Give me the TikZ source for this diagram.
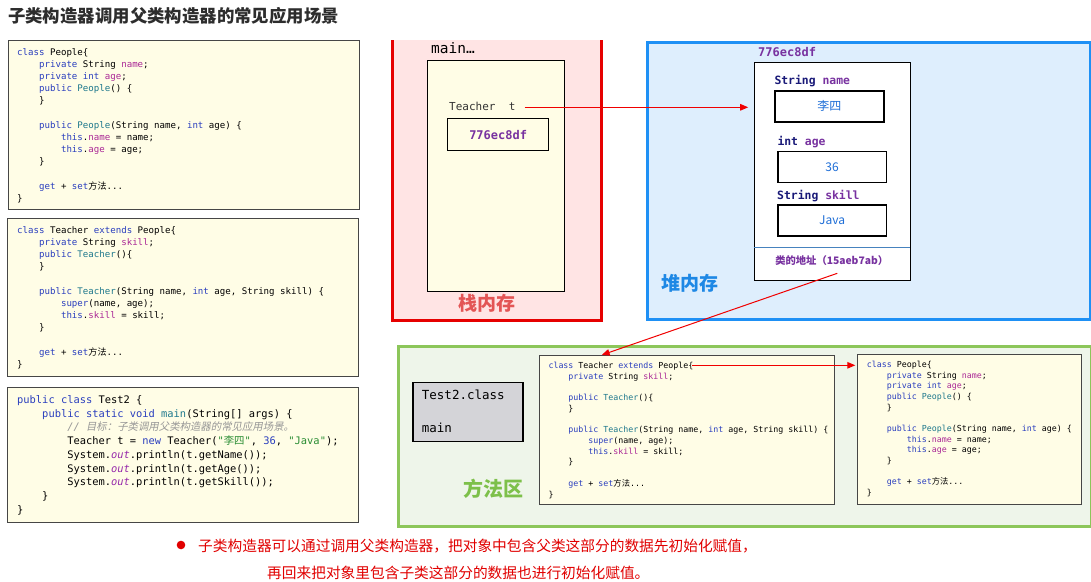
\documentclass[tikz,border=0pt]{standalone}
\usepackage{fontspec}
\setmainfont{Noto Sans CJK SC}
\newfontfamily\cjk{Noto Sans CJK SC}
\newfontfamily\cjkit[FakeSlant=0.2]{Noto Sans CJK SC}
\newfontfamily\mono{DejaVu Sans Mono}
\usetikzlibrary{arrows.meta}

\definecolor{kwc}{RGB}{42,62,190}
\definecolor{fdc}{RGB}{170,40,150}
\definecolor{mtc}{RGB}{30,120,140}
\definecolor{sgc}{RGB}{40,140,50}
\definecolor{cmc}{RGB}{150,150,150}
\definecolor{outc}{RGB}{150,40,170}
\definecolor{cream}{RGB}{255,253,230}
\definecolor{boxline}{RGB}{70,70,70}
\definecolor{stackfill}{RGB}{255,228,228}
\definecolor{stackline}{RGB}{230,0,0}
\definecolor{heapfill}{RGB}{222,238,253}
\definecolor{heapline}{RGB}{30,144,245}
\definecolor{methfill}{RGB}{238,245,234}
\definecolor{methline}{RGB}{140,198,90}
\definecolor{addr}{RGB}{120,50,160}
\definecolor{navyc}{RGB}{25,25,120}
\definecolor{valc}{RGB}{30,110,215}
\definecolor{arrowred}{RGB}{240,0,0}
\definecolor{titlec}{RGB}{45,45,45}
\definecolor{notered}{RGB}{225,0,0}
\definecolor{sepc}{RGB}{70,130,190}
\definecolor{grayfill}{RGB}{212,212,216}
\definecolor{stacktxt}{RGB}{227,85,85}
\definecolor{heaptxt}{RGB}{30,136,229}
\definecolor{methtxt}{RGB}{125,192,74}

\newcommand\kw[1]{\textcolor{kwc}{#1}}
\newcommand\fd[1]{\textcolor{fdc}{#1}}
\newcommand\mt[1]{\textcolor{mtc}{#1}}
\newcommand\sg[1]{\textcolor{sgc}{#1}}
\newcommand\zh[1]{{\cjk #1}}
\newcommand\zhit[1]{{\cjkit #1}}
\newcommand\CL[2][0]{\hbox{\hskip#1\fontcharwd\font`\0\relax #2}}
\newcommand\codeblk[2]{\vtop{\baselineskip=#1\lineskiplimit=-100pt\lineskip=0pt #2}}

\tikzset{
  codebox/.style={draw=boxline, line width=0.8pt, fill=cream, inner sep=0, anchor=north west},
  code/.style={anchor=base west, inner sep=0},
  valbox/.style={draw=black, line width=1.5pt, fill=white, anchor=north west, inner sep=0,
     font=\cjk\fontsize{12}{14}\selectfont, text=valc},
  arr/.style={draw=arrowred, line width=1pt, -{Triangle[length=8pt,width=6.5pt]}},
  region/.style={anchor=north west, inner sep=0},
  fieldlbl/.style={anchor=west, inner sep=0, font=\mono\bfseries\fontsize{11.4}{13}\selectfont, text=navyc},
}

\begin{document}
\begin{tikzpicture}[x=1pt,y=-1pt]
\useasboundingbox (0,0) rectangle (1091,581);
\fill[white] (0,0) rectangle (1091,581);

% title
\node[anchor=west, inner sep=0, text=titlec, font=\cjk\bfseries\fontsize{17.4}{20}\selectfont] (title) at (8,16) {子类构造器调用父类构造器的常见应用场景};

% left code boxes
\node[codebox, minimum width=351pt, minimum height=169pt] (pbox) at (8,40) {};
\node[code, font=\mono\fontsize{9.1}{12}\selectfont] (pcode) at (17,55) {\codeblk{12.2pt}{%
\CL{\kw{class} People\{}
\CL[4]{\kw{private} String \fd{name};}
\CL[4]{\kw{private} \kw{int} \fd{age};}
\CL[4]{\kw{public} \mt{People}() \{}
\CL[4]{\}}
\CL{}
\CL[4]{\kw{public} \mt{People}(String name, \kw{int} age) \{}
\CL[8]{\kw{this}.\fd{name} = name;}
\CL[8]{\kw{this}.\fd{age} = age;}
\CL[4]{\}}
\CL{}
\CL[4]{\kw{get} + \kw{set}\zh{方法}...}
\CL{\}}}};

\node[codebox, minimum width=351pt, minimum height=158pt] (tbox) at (7,218) {};
\node[code, font=\mono\fontsize{9.1}{12}\selectfont] (tcode) at (17,233) {\codeblk{12.2pt}{%
\CL{\kw{class} Teacher \kw{extends} People\{}
\CL[4]{\kw{private} String \fd{skill};}
\CL[4]{\kw{public} \mt{Teacher}()\{}
\CL[4]{\}}
\CL{}
\CL[4]{\kw{public} \mt{Teacher}(String name, \kw{int} age, String skill) \{}
\CL[8]{\kw{super}(name, age);}
\CL[8]{\kw{this}.\fd{skill} = skill;}
\CL[4]{\}}
\CL{}
\CL[4]{\kw{get} + \kw{set}\zh{方法}...}
\CL{\}}}};

\node[codebox, minimum width=351pt, minimum height=135pt] (xbox) at (7,387) {};
\node[code, font=\mono\fontsize{10.4}{13}\selectfont] (xcode) at (17,403.5) {\codeblk{13.7pt}{%
\CL{\kw{public} \kw{class} Test2 \{}
\CL[4]{\kw{public} \kw{static} \kw{void} \mt{main}(String[] args) \{}
\CL[8]{\textcolor{cmc}{\itshape // \zhit{目标：子类调用父类构造器的常见应用场景。}}}
\CL[8]{Teacher t = \kw{new} Teacher(\sg{"\zh{李四}"}, \textcolor{kwc}{36}, \sg{"Java"});}
\CL[8]{System.\textcolor{outc}{\itshape out}.println(t.getName());}
\CL[8]{System.\textcolor{outc}{\itshape out}.println(t.getAge());}
\CL[8]{System.\textcolor{outc}{\itshape out}.println(t.getSkill());}
\CL[4]{\}}
\CL{\}}}};

% stack
\node[region, fill=stackfill, minimum width=209pt, minimum height=280pt] (stack) at (392,40) {};
\draw[stackline, line width=3pt] (stack.north west) -- (stack.south west) -- (stack.south east) -- (stack.north east);
\node[anchor=west, inner sep=0, font=\mono\fontsize{14.5}{16}\selectfont] (mainlbl) at (431,48) {main…};
\node[region, draw=black, line width=1pt, fill=cream, minimum width=137.6pt, minimum height=230.7pt] (frame) at (426.7,60) {};
\node[anchor=west, inner sep=0, text=black!80, font=\mono\fontsize{11}{13}\selectfont] (tt) at (449,106.7) {Teacher\ \ t};
\node[region, draw=black, line width=1.3pt, fill=cream, minimum width=101pt, minimum height=32pt, text=addr, font=\mono\bfseries\fontsize{12}{14}\selectfont] (sref) at (447,118) {776ec8df};
\node[text=stacktxt, inner sep=0, font=\cjk\bfseries\fontsize{19}{21}\selectfont] (stacklbl) at (486.5,303.3) {栈内存};

% heap
\node[region, fill=heapfill, draw=heapline, line width=3pt, minimum width=443pt, minimum height=277.3pt] (heap) at (646,40.7) {};
\node[anchor=west, inner sep=0, text=addr, font=\mono\bfseries\fontsize{12}{14}\selectfont] (objaddr) at (758,52.3) {776ec8df};
\node[region, draw=black, line width=1.2pt, fill=white, minimum width=156.3pt, minimum height=218.3pt] (obj) at (753.7,61.7) {};
\node[fieldlbl] (f1) at (774.3,81) {String \textcolor{addr}{name}};
\node[valbox, minimum width=109.3pt, minimum height=31pt] (v1) at (774,90) {李四};
\node[fieldlbl] (f2) at (777.3,141.7) {int \textcolor{addr}{age}};
\node[valbox, minimum width=108.7pt, minimum height=31pt] (v2) at (777,150.7) {36};
\node[fieldlbl] (f3) at (777,195.7) {String \textcolor{addr}{skill}};
\node[valbox, minimum width=108.7pt, minimum height=30.7pt] (v3) at (777,204.3) {Java};
\draw[sepc, line width=0.8pt] (753.7,247.3) -- (910,247.3);
\node[inner sep=0, text=addr, font=\cjk\bfseries\fontsize{10.3}{12}\selectfont] (addrtxt) at (831.7,261) {类的地址（15aeb7ab）};
\node[text=heaptxt, inner sep=0, font=\cjk\bfseries\fontsize{19}{21}\selectfont] (heaplbl) at (689.5,283.3) {堆内存};

% method area
\node[region, fill=methfill, draw=methline, line width=3pt, minimum width=693pt, minimum height=180pt] (meth) at (397,345) {};
\node[region, draw=black, line width=1.3pt, fill=grayfill, minimum width=110pt, minimum height=59.3pt] (t2) at (412.3,381.7) {};
\node[anchor=west, inner sep=0, font=\mono\fontsize{12.5}{14}\selectfont] (t2a) at (421.7,395) {Test2.class};
\node[anchor=west, inner sep=0, font=\mono\fontsize{12.5}{14}\selectfont] (t2b) at (421.7,428.3) {main};
\node[text=methtxt, inner sep=0, font=\cjk\bfseries\fontsize{20}{22}\selectfont] (methlbl) at (493.7,489) {方法区};

\node[codebox, minimum width=295pt, minimum height=149.3pt] (tm) at (539.3,355) {};
\node[code, font=\mono\fontsize{8.3}{10}\selectfont] (tmcode) at (548.3,368.6) {\codeblk{10.7pt}{%
\CL{\kw{class} Teacher \kw{extends} People\{}
\CL[4]{\kw{private} String \fd{skill};}
\CL{}
\CL[4]{\kw{public} \mt{Teacher}()\{}
\CL[4]{\}}
\CL{}
\CL[4]{\kw{public} \mt{Teacher}(String name, \kw{int} age, String skill) \{}
\CL[8]{\kw{super}(name, age);}
\CL[8]{\kw{this}.\fd{skill} = skill;}
\CL[4]{\}}
\CL{}
\CL[4]{\kw{get} + \kw{set}\zh{方法}...}
\CL{\}}}};

\node[codebox, minimum width=223.4pt, minimum height=150pt] (pm) at (857.3,354) {};
\node[code, font=\mono\fontsize{8.3}{10}\selectfont] (pmcode) at (866.7,367.6) {\codeblk{10.67pt}{%
\CL{\kw{class} People\{}
\CL[4]{\kw{private} String \fd{name};}
\CL[4]{\kw{private} \kw{int} \fd{age};}
\CL[4]{\kw{public} \mt{People}() \{}
\CL[4]{\}}
\CL{}
\CL[4]{\kw{public} \mt{People}(String name, \kw{int} age) \{}
\CL[8]{\kw{this}.\fd{name} = name;}
\CL[8]{\kw{this}.\fd{age} = age;}
\CL[4]{\}}
\CL{}
\CL[4]{\kw{get} + \kw{set}\zh{方法}...}
\CL{\}}}};

% connectors
\coordinate (a1s) at (524.7,107.3);
\draw[arr, shorten >=5.5pt] (a1s) -- (a1s -| obj.west);
\coordinate (addrpt) at (837.3,273.3);
\coordinate (tin) at (601.7,355);
\draw[arr] (addrpt) -- (tin);
\coordinate (extpt) at (692,365.3);
\draw[arr, shorten >=2pt] (extpt) -- (extpt -| pm.west);

% note
\fill[notered] (181,545) circle (4.3);
\node[anchor=west, inner sep=0, text=notered, font=\cjk\fontsize{14.7}{17}\selectfont] (note1) at (198,546) {子类构造器可以通过调用父类构造器，把对象中包含父类这部分的数据先初始化赋值，};
\node[anchor=west, inner sep=0, text=notered, font=\cjk\fontsize{14.7}{17}\selectfont] (note2) at (267,573) {再回来把对象里包含子类这部分的数据也进行初始化赋值。};
\end{tikzpicture}
\end{document}
